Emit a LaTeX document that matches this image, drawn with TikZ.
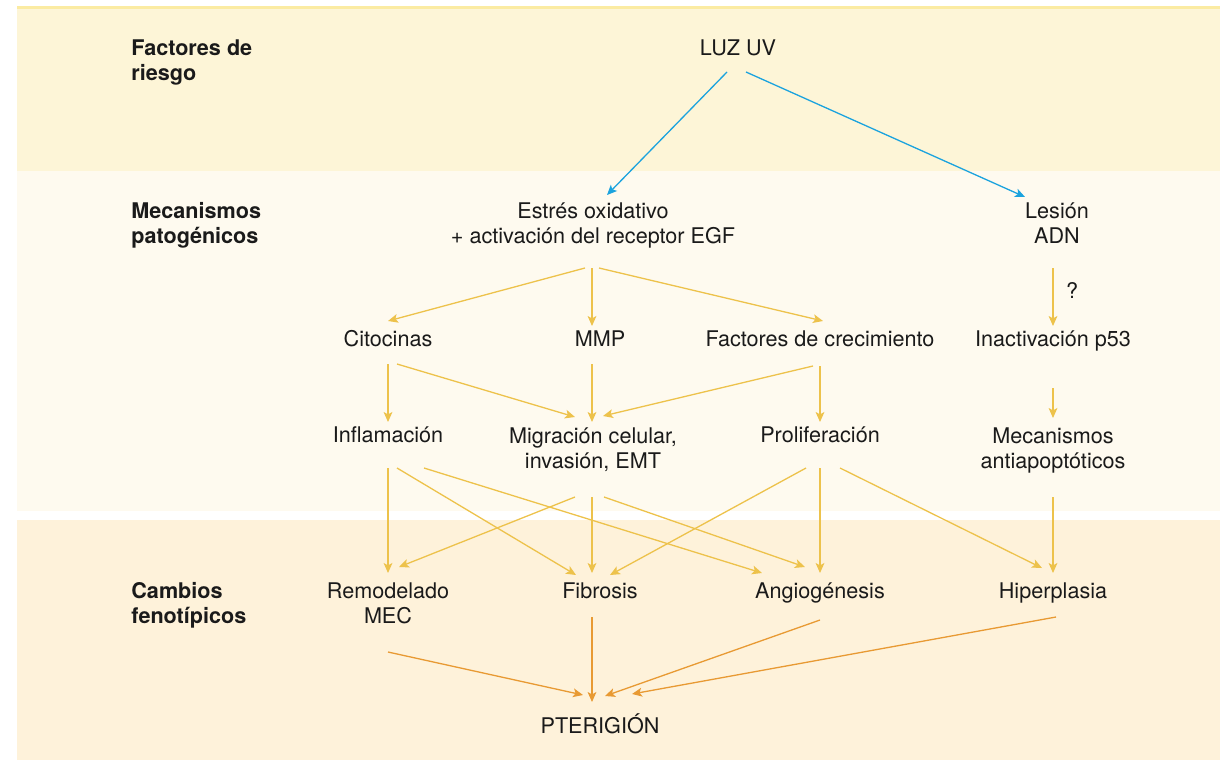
\documentclass[tikz,border=0pt]{standalone}
\usepackage{fontspec}
\setmainfont{TeX Gyre Heros}
\usetikzlibrary{arrows.meta, calc}
\definecolor{bandTop}{HTML}{FBEBA2}
\definecolor{bandA}{HTML}{FDF5D7}
\definecolor{bandB}{HTML}{FEFAEF}
\definecolor{bandC}{HTML}{FEF2DA}
\definecolor{ink}{HTML}{1A1A1A}
\definecolor{uvblue}{HTML}{1BA3DE}
\definecolor{mecyel}{HTML}{EDC24B}
\definecolor{fenora}{HTML}{E89A33}
\tikzset{
    txt/.style={inner sep=0pt, anchor=base, align=center, text=ink,
        font=\fontsize{10.8}{12.5}\selectfont},
    lbl/.style={txt, anchor=base west, align=left,
        font=\bfseries\fontsize{10.8}{12.5}\selectfont},
    arr/.style={line width=0.65pt, -{Stealth[length=5pt, width=4.4pt, inset=1.2pt]}},
    arrB/.style={arr, draw=uvblue},
    arrY/.style={arr, draw=mecyel},
    arrO/.style={arr, draw=fenora}
}
\begin{document}
\begin{tikzpicture}[x=0.5pt, y=-0.5pt]
    \useasboundingbox (0,0) rectangle (1220,760);
    % bandas de fondo
    \fill[bandA] (17,9) rectangle (1220,171);
    \fill[bandTop] (17,6) rectangle (1220,9);
    \fill[bandB] (17,171) rectangle (1220,511);
    \fill[bandC] (17,520) rectangle (1220,760);
    % etiquetas (base = ultima linea)
    \node[lbl] (rsk) at (131,80) {Factores de\\riesgo};
    \node[lbl] (mec) at (131,243) {Mecanismos\\patogénicos};
    \node[lbl] (cam) at (131,623) {Cambios\\fenotípicos};
    % nodos
    \node[txt] (luz) at (738,55) {LUZ UV};
    \node[txt] (est) at (593,243) {Estrés oxidativo\\+ activación del receptor EGF};
    \node[txt] (les) at (1057,243) {Lesión\\ADN};
    \node[txt] (cit) at (388,346) {Citocinas};
    \node[txt] (mmp) at (600,346) {MMP};
    \node[txt] (fac) at (820,346) {Factores de crecimiento};
    \node[txt] (ina) at (1053,346) {Inactivación p53};
    \node[txt] (qm) at (1072,298) {?};
    \node[txt] (inf) at (388,442) {Inflamación};
    \node[txt] (mig) at (593,468) {Migración celular,\\invasión, EMT};
    \node[txt] (pro) at (820,442) {Proliferación};
    \node[txt] (ant) at (1053,468) {Mecanismos\\antiapoptóticos};
    \node[txt] (rem) at (388,623) {Remodelado\\MEC};
    \node[txt] (fib) at (600,598) {Fibrosis};
    \node[txt] (ang) at (820,598) {Angiogénesis};
    \node[txt] (hip) at (1053,598) {Hiperplasia};
    \node[txt] (pte) at (600,733) {PTERIGIÓN};
    % luz UV
    \draw[arrB] ($(luz.base)+(-11,17)$) -- ($(est.base)+(14,-48)$);
    \draw[arrB] ($(luz.base)+(8,17)$) -- ($(les.base)+(-32,-46)$);
    % mecanismos
    \draw[arrY] ($(est.base)+(-8,25)$) -- ($(cit.base)+(0,-25)$);
    \draw[arrY] ($(est.base)+(-1,25)$) -- ($(mmp.base)+(-8,-20)$);
    \draw[arrY] ($(est.base)+(6,25)$) -- ($(fac.base)+(3,-25)$);
    \draw[arrY] ($(les.base)+(-4,25)$) -- ($(ina.base)+(0,-20)$);
    \draw[arrY] ($(cit.base)+(0,18)$) -- ($(inf.base)+(0,-20)$);
    \draw[arrY] ($(cit.base)+(9,18)$) -- ($(mig.base)+(-18,-51)$);
    \draw[arrY] ($(mmp.base)+(-8,18)$) -- ($(mig.base)+(-1,-46)$);
    \draw[arrY] ($(fac.base)+(-7,20)$) -- ($(mig.base)+(10,-52)$);
    \draw[arrY] ($(fac.base)+(0,20)$) -- ($(pro.base)+(0,-20)$);
    \draw[arrY] ($(ina.base)+(0,42)$) -- ($(ant.base)+(0,-50)$);
    % cambios
    \draw[arrY] ($(inf.base)+(0,26)$) -- ($(rem.base)+(0,-50)$);
    \draw[arrY] ($(inf.base)+(9,26)$) -- ($(fib.base)+(-24,-23)$);
    \draw[arrY] ($(inf.base)+(36,26)$) -- ($(ang.base)+(-58,-25)$);
    \draw[arrY] ($(mig.base)+(-18,29)$) -- ($(rem.base)+(11,-56)$);
    \draw[arrY] ($(mig.base)+(-1,29)$) -- ($(fib.base)+(-8,-25)$);
    \draw[arrY] ($(mig.base)+(11,29)$) -- ($(ang.base)+(-15,-31)$);
    \draw[arrY] ($(pro.base)+(-14,26)$) -- ($(fib.base)+(10,-23)$);
    \draw[arrY] ($(pro.base)+(0,26)$) -- ($(ang.base)+(0,-25)$);
    \draw[arrY] ($(pro.base)+(20,26)$) -- ($(hip.base)+(-11,-30)$);
    \draw[arrY] ($(ant.base)+(0,29)$) -- ($(hip.base)+(0,-25)$);
    % pterigion
    \draw[arrO] ($(rem.base)+(0,29)$) -- ($(pte.base)+(-17,-38)$);
    \draw[arrO] ($(fib.base)+(-8,19)$) -- ($(pte.base)+(-8,-31)$);
    \draw[arrO] ($(ang.base)+(0,22)$) -- ($(pte.base)+(5,-37)$);
    \draw[arrO] ($(hip.base)+(3,19)$) -- ($(pte.base)+(32,-39)$);
\end{tikzpicture}
\end{document}
